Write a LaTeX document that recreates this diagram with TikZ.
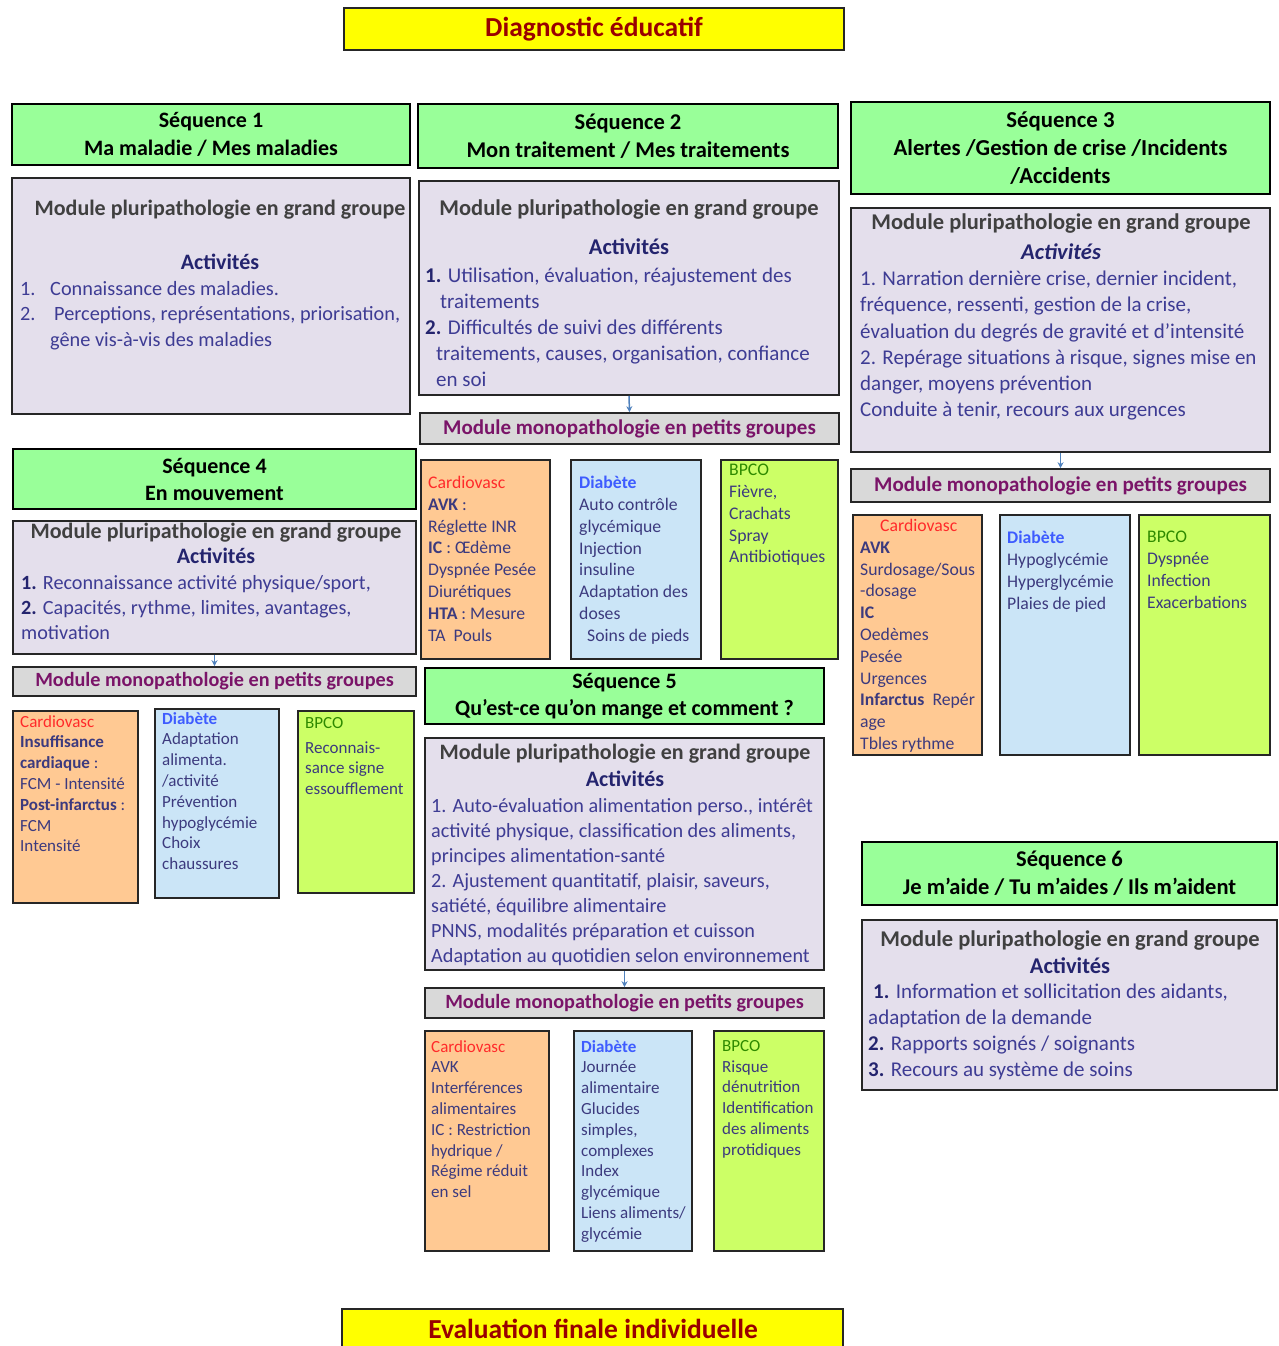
\documentclass[tikz,border=0pt]{standalone}
\usepackage{fontspec}
\setmainfont{Carlito}
\usepackage{tikz}
\usetikzlibrary{arrows.meta, positioning, fit}
\definecolor{bannerfill}{HTML}{FFFF00}
\definecolor{bannertext}{HTML}{990000}
\definecolor{seqgreen}{HTML}{99FF99}
\definecolor{plurifill}{HTML}{E4DFEC}
\definecolor{monogray}{HTML}{D9D9D9}
\definecolor{cardfill}{HTML}{FFC993}
\definecolor{diabfill}{HTML}{CBE5F7}
\definecolor{bpcofill}{HTML}{CCFF66}
\definecolor{framegray}{HTML}{262626}
\definecolor{headgray}{HTML}{404040}
\definecolor{actnavy}{HTML}{24246E}
\definecolor{bodyblue}{HTML}{3E3C94}
\definecolor{monopurple}{HTML}{7A1468}
\definecolor{cellblue}{HTML}{3C3A7E}
\definecolor{cardred}{HTML}{FF2A2A}
\definecolor{diabblue}{HTML}{3E5CFF}
\definecolor{bpcogreen}{HTML}{2E8A00}
\definecolor{arrowblue}{HTML}{4F81BD}

\tikzset{
  boxframe/.style={draw=framegray, line width=1.6pt, inner sep=0pt},
  banner/.style={boxframe, fill=bannerfill},
  bannertxt/.style={inner sep=0pt, text=bannertext, font=\bfseries\fontsize{27.5}{32}\selectfont},
  seqhead/.style={boxframe, draw=black, fill=seqgreen},
  seqtxt/.style={inner sep=0pt, align=center, font=\bfseries\fontsize{22.5}{28}\selectfont},
  plurbox/.style={boxframe, fill=plurifill},
  monohead/.style={boxframe, fill=monogray},
  monotxt/.style={inner sep=0pt, text=monopurple, font=\bfseries\fontsize{21}{24}\selectfont},
  cardbox/.style={boxframe, fill=cardfill},
  diabbox/.style={boxframe, fill=diabfill},
  bpcobox/.style={boxframe, fill=bpcofill},
  plurtitle/.style={anchor=north, align=center, inner sep=0pt, text=headgray, font=\bfseries\fontsize{22.5}{27}\selectfont},
  plurbody/.style={anchor=north west, align=left, inner sep=0pt, text=bodyblue, font=\fontsize{20.5}{25.5}\selectfont},
  celltext/.style={anchor=north west, align=left, inner sep=0pt, text=cellblue, font=\fontsize{17.7}{21.8}\selectfont},
  smallcell/.style={celltext, font=\fontsize{17}{20.8}\selectfont},
  flow/.style={draw=arrowblue, line width=1.5pt, -{Stealth[length=6pt, width=6pt]}},
}
\newcommand{\cardtag}{\textcolor{cardred}{Cardiovasc}}
\newcommand{\diabtag}{\textcolor{diabblue}{\bfseries Diabète}}
\newcommand{\bpcotag}{\textcolor{bpcogreen}{BPCO}}
\newcommand{\acttag}{\textcolor{actnavy}{Activités}}
\newcommand{\plurname}{Module pluripathologie en grand groupe}
\newcommand{\mononame}{Module monopathologie en petits groupes}

\begin{document}
\begin{tikzpicture}[x=1pt, y=-1pt]
  \clip (0,0) rectangle (1278,1346);
  \fill[white] (0,0) rectangle (1278,1346);

  % top and bottom banners
  \node[banner, fit={(344,8) (844,50)}] (diag) {};
  \node[bannertxt] (diagtxt) at (594,29) {Diagnostic éducatif};
  \node[banner, fit={(342,1309) (843,1356)}] (evalfin) {};
  \node[bannertxt] (evaltxt) at (593,1329) {Evaluation finale individuelle};

  % Sequence 1
  \node[seqhead, fit={(12,104) (410,165)}] (s1head) {};
  \node[seqtxt, font=\bfseries\fontsize{22}{28}\selectfont] (s1headtxt) at (s1head.center) {Séquence 1\\Ma maladie / Mes maladies};
  \node[plurbox, fit={(12,178) (410,414)}] (s1plur) {};
  \node[plurtitle, font=\bfseries\fontsize{22}{27}\selectfont] (s1title) at (220,200) {\plurname\\[27pt]\acttag};
  \node[plurbody, font=\fontsize{20.3}{25.5}\selectfont] (s1body) at (20,281) {\makebox[30pt][l]{1.}Connaissance des maladies.\\
    \makebox[34pt][l]{2.}Perceptions, représentations, priorisation,\\
    \hspace*{30pt}gêne vis-à-vis des maladies};

  % Sequence 2
  \node[seqhead, fit={(418,104) (838,168)}] (s2head) {};
  \node[seqtxt] (s2headtxt) at (s2head.center) {Séquence 2\\Mon traitement / Mes traitements};
  \node[plurbox, fit={(419,181) (839,395)}] (s2plur) {};
  \node[plurtitle] (s2title) at (629,200) {\plurname\\[12pt]\acttag};
  \node[plurbody, font=\fontsize{21}{26}\selectfont] (s2body) at (425,268) {\textbf{\color{actnavy}1.} Utilisation, évaluation, réajustement des\\
    \hspace*{15pt}traitements\\
    \textbf{\color{actnavy}2.} Difficultés de suivi des différents\\
    \hspace*{11pt}traitements, causes, organisation, confiance\\
    \hspace*{11pt}en soi};
  \node[monohead, fit={(420,413) (839,444)}] (s2mono) {};
  \node[monotxt] (s2monotxt) at (s2mono.center) {\mononame};
  \draw[flow] (s2plur.south) -- (s2mono.north);
  \node[cardbox, fit={(421,460) (550,659)}] (s2card) {};
  \node[celltext] (s2cardtxt) at (428,476) {\cardtag\\ \textbf{AVK} :\\ Réglette INR\\ \textbf{IC} : Œdème\\
    Dyspnée Pesée\\ Diurétiques\\ \textbf{HTA} : Mesure\\ TA\ \ Pouls};
  \node[diabbox, fit={(571,460) (701,659)}] (s2diab) {};
  \node[celltext] (s2diabtxt) at (579,476) {\diabtag\\ Auto contrôle\\ glycémique\\ Injection\\ insuline\\
    Adaptation des\\ doses\\ \hspace*{8pt}Soins de pieds};
  \node[bpcobox, fit={(721,460) (838,659)}] (s2bpco) {};
  \node[celltext] (s2bpcotxt) at (729,464) {\bpcotag\\ Fièvre,\\ Crachats\\ Spray\\ Antibiotiques};

  % Sequence 3
  \node[seqhead, fit={(851,102) (1270,194)}] (s3head) {};
  \node[seqtxt, font=\bfseries\fontsize{22.8}{28}\selectfont] (s3headtxt) at (s3head.center) {Séquence 3\\Alertes /Gestion de crise /Incidents\\/Accidents};
  \node[plurbox, fit={(851,208) (1270,452)}] (s3plur) {};
  \node[plurtitle] (s3title) at (1061,214) {\plurname\\[3pt]\textit{\acttag}};
  \node[plurbody, font=\fontsize{21}{26.2}\selectfont] (s3body) at (860,271) {1. Narration dernière crise, dernier incident,\\
    fréquence, ressenti, gestion de la crise,\\
    évaluation du degrés de gravité et d’intensité\\
    2. Repérage situations à risque, signes mise en\\
    danger, moyens prévention\\
    Conduite à tenir, recours aux urgences};
  \node[monohead, fit={(851,469) (1270,502)}] (s3mono) {};
  \node[monotxt] (s3monotxt) at (s3mono.center) {\mononame};
  \draw[flow] (s3plur.south) -- (s3mono.north);
  \node[cardbox, fit={(853,515) (982,755)}] (s3card) {};
  \node[celltext] (s3cardtxt) at (860,519) {\hspace*{20pt}\cardtag\\ \textbf{AVK}\\ Surdosage/Sous\\ -dosage\\
    \textbf{IC}\\ Oedèmes\\ Pesée\\ Urgences\\ \textbf{Infarctus}\ \ Repér\\ age\\ Tbles rythme};
  \node[diabbox, fit={(1000,515) (1130,755)}] (s3diab) {};
  \node[celltext] (s3diabtxt) at (1007,531) {\diabtag\\ Hypoglycémie\\ Hyperglycémie\\ Plaies de pied};
  \node[bpcobox, fit={(1139,515) (1270,755)}] (s3bpco) {};
  \node[celltext] (s3bpcotxt) at (1147,531) {\bpcotag\\ Dyspnée\\ Infection\\ Exacerbations};

  % Sequence 4
  \node[seqhead, fit={(13,449) (416,509)}] (s4head) {};
  \node[seqtxt, font=\bfseries\fontsize{22}{27}\selectfont] (s4headtxt) at (s4head.center) {Séquence 4\\En mouvement};
  \node[plurbox, fit={(13,521) (416,654)}] (s4plur) {};
  \node[plurtitle, font=\bfseries\fontsize{22}{27}\selectfont] (s4title) at (216,523) {\plurname\\[-2pt]\acttag};
  \node[plurbody, font=\fontsize{20.2}{25}\selectfont] (s4body) at (21,575) {\textbf{\color{actnavy}1.} Reconnaissance activité physique/sport,\\
    \textbf{\color{actnavy}2.} Capacités, rythme, limites, avantages,\\
    motivation};
  \node[monohead, fit={(13,667) (416,696)}] (s4mono) {};
  \node[monotxt, font=\bfseries\fontsize{20.2}{24}\selectfont] (s4monotxt) at (s4mono.center) {\mononame};
  \draw[flow] (s4plur.south) -- (s4mono.north);
  \node[cardbox, fit={(13,711) (138,903)}] (s4card) {};
  \node[smallcell] (s4cardtxt) at (20,715) {\cardtag\\ \textbf{Insuffisance}\\
    \textbf{cardiaque} :\\ FCM - Intensité\\ \textbf{Post-infarctus} :\\ FCM\\ Intensité};
  \node[diabbox, fit={(155,709) (279,898)}] (s4diab) {};
  \node[smallcell] (s4diabtxt) at (162,712) {\diabtag\\ Adaptation\\ alimenta.\\
    /activité\\ Prévention\\ hypoglycémie\\ Choix\\ chaussures};
  \node[bpcobox, fit={(298,711) (414,893)}] (s4bpco) {};
  \node[smallcell] (s4bpcotxt) at (305,717) {\bpcotag\\[4pt] Reconnais-\\ sance signe\\ essoufflement};

  % Sequence 5
  \node[seqhead, fit={(425,668) (824,724)}] (s5head) {};
  \node[seqtxt, font=\bfseries\fontsize{22}{27}\selectfont] (s5headtxt) at (s5head.center) {Séquence 5\\Qu’est-ce qu’on mange et comment ?};
  \node[plurbox, fit={(425,738) (824,970)}] (s5plur) {};
  \node[plurtitle, font=\bfseries\fontsize{22}{27}\selectfont] (s5title) at (625,744) {\plurname\\\acttag};
  \node[plurbody, font=\fontsize{20.2}{25}\selectfont] (s5body) at (431,798) {1. Auto-évaluation alimentation perso., intérêt\\
    activité physique, classification des aliments,\\
    principes alimentation-santé\\
    2. Ajustement quantitatif, plaisir, saveurs,\\
    satiété, équilibre alimentaire\\
    PNNS, modalités préparation et cuisson\\
    Adaptation au quotidien selon environnement};
  \node[monohead, fit={(425,988) (824,1018)}] (s5mono) {};
  \node[monotxt, font=\bfseries\fontsize{20.2}{24}\selectfont] (s5monotxt) at (s5mono.center) {\mononame};
  \draw[flow] (s5plur.south) -- (s5mono.north);
  \node[cardbox, fit={(425,1031) (549,1251)}] (s5card) {};
  \node[smallcell] (s5cardtxt) at (431,1040) {\cardtag\\ AVK\\ Interférences\\
    alimentaires\\ IC : Restriction\\ hydrique /\\ Régime réduit\\ en sel};
  \node[diabbox, fit={(574,1031) (692,1251)}] (s5diab) {};
  \node[smallcell] (s5diabtxt) at (581,1040) {\diabtag\\ Journée\\ alimentaire\\
    Glucides\\ simples,\\ complexes\\ Index\\ glycémique\\ Liens aliments/\\ glycémie};
  \node[bpcobox, fit={(714,1031) (824,1251)}] (s5bpco) {};
  \node[smallcell] (s5bpcotxt) at (722,1040) {\bpcotag\\ Risque\\ dénutrition\\
    Identification\\ des aliments\\ protidiques};

  % Sequence 6
  \node[seqhead, fit={(862,842) (1277,905)}] (s6head) {};
  \node[seqtxt] (s6headtxt) at (s6head.center) {Séquence 6\\Je m’aide / Tu m’aides / Ils m’aident};
  \node[plurbox, fit={(862,920) (1277,1090)}] (s6plur) {};
  \node[plurtitle] (s6title) at (1070,931) {\plurname\\\acttag};
  \node[plurbody, font=\fontsize{21}{26}\selectfont] (s6body) at (868,984) {\hspace*{5pt}\textbf{\color{actnavy}1.} Information et sollicitation des aidants,\\
    adaptation de la demande\\
    \textbf{\color{actnavy}2.} Rapports soignés / soignants\\
    \textbf{\color{actnavy}3.} Recours au système de soins};
\end{tikzpicture}
\end{document}
